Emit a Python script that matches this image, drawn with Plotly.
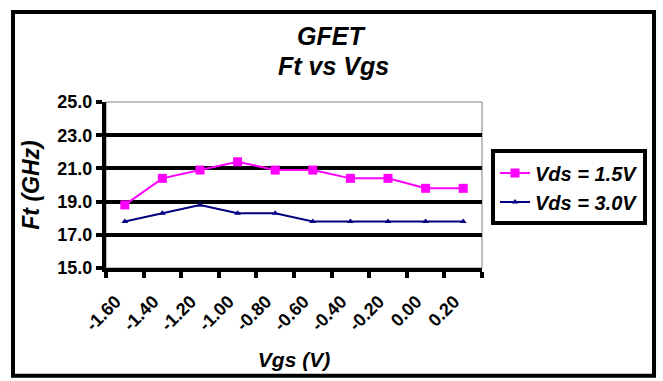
import plotly.graph_objects as go

# Gate voltage categories (V) and cutoff frequency (GHz) per drain bias
vgs_labels = ["-1.60", "-1.40", "-1.20", "-1.00", "-0.80",
              "-0.60", "-0.40", "-0.20", "0.00", "0.20"]
ft_vds_15 = [18.8, 20.4, 20.9, 21.4, 20.9, 20.9, 20.4, 20.4, 19.8, 19.8]
ft_vds_30 = [17.8, 18.3, 18.8, 18.3, 18.3, 17.8, 17.8, 17.8, 17.8, 17.8]
y_ticks = [15.0, 17.0, 19.0, 21.0, 23.0, 25.0]

FONT = "Liberation Sans, Arial, sans-serif"

fig = go.Figure()
fig.add_trace(go.Scatter(
    x=vgs_labels, y=ft_vds_15, name="Vds = 1.5V", mode="lines+markers",
    line=dict(color="#FF00FF", width=2),
    marker=dict(symbol="square", size=9, color="#FF00FF"),
))
fig.add_trace(go.Scatter(
    x=vgs_labels, y=ft_vds_30, name="Vds = 3.0V", mode="lines+markers",
    line=dict(color="#000080", width=2),
    marker=dict(symbol="triangle-up", size=6, color="#000080"),
))

L, R, T, B = 106, 181, 102, 111
W, H = 663, 381
pw, ph = W - L - R, H - T - B


def px_x(v):
    return (v - L) / pw


def px_y(v):
    return (H - B - v) / ph


shapes = [
    # plot-area frame
    dict(type="rect", xref="paper", yref="paper", x0=0, x1=1, y0=0, y1=1,
         line=dict(color="#808080", width=1), layer="below"),
    # chart-area border
    dict(type="rect", xref="paper", yref="paper",
         x0=px_x(13), x1=px_x(654), y0=px_y(379), y1=px_y(11),
         line=dict(color="black", width=4)),
]

title_font = dict(family=FONT, size=25, color="black", weight="bold", style="italic")
annotations = [
    dict(text="GFET", xref="paper", yref="paper", x=px_x(331), y=px_y(50),
         xanchor="center", yanchor="bottom", showarrow=False, borderpad=0,
         font=title_font),
    dict(text="Ft vs Vgs", xref="paper", yref="paper", x=px_x(333), y=px_y(50),
         xanchor="center", yanchor="top", showarrow=False, borderpad=0,
         font=title_font),
]

fig.update_layout(
    width=W, height=H,
    margin=dict(l=L, r=R, t=T, b=B),
    paper_bgcolor="white", plot_bgcolor="white",
    showlegend=True,
    legend=dict(
        x=px_x(491), y=px_y(150), xanchor="left", yanchor="top",
        bordercolor="black", borderwidth=4, bgcolor="white",
        font=dict(family=FONT, size=20, color="black",
                  weight="bold", style="italic"),
    ),
    shapes=shapes,
    annotations=annotations,
)

fig.update_xaxes(
    type="category", categoryorder="array", categoryarray=vgs_labels,
    range=[-0.5, len(vgs_labels) - 0.5],
    showgrid=False, zeroline=False,
    showline=True, linecolor="black", linewidth=4,
    ticks="outside", tickson="boundaries", ticklen=6, tickwidth=4, tickcolor="black",
    tickangle=-45, ticklabelstandoff=12, ticklabelshift=-9,
    tickfont=dict(family=FONT, size=18, color="black", weight="bold"),
    title=dict(text="Vgs (V)", standoff=19,
               font=dict(family=FONT, size=21, color="black",
                         weight="bold", style="italic")),
)

fig.update_yaxes(
    range=[15, 25], tickvals=y_ticks, tickformat=".1f",
    showgrid=True, gridcolor="black", gridwidth=4,
    zeroline=False,
    showline=True, linecolor="black", linewidth=4,
    ticks="outside", ticklen=6, tickwidth=4, tickcolor="black",
    tickfont=dict(family=FONT, size=18, color="black", weight="bold"),
    title=dict(text="Ft (GHz)", standoff=12,
               font=dict(family=FONT, size=23, color="black",
                         weight="bold", style="italic")),
)

fig.write_html("out.html")
